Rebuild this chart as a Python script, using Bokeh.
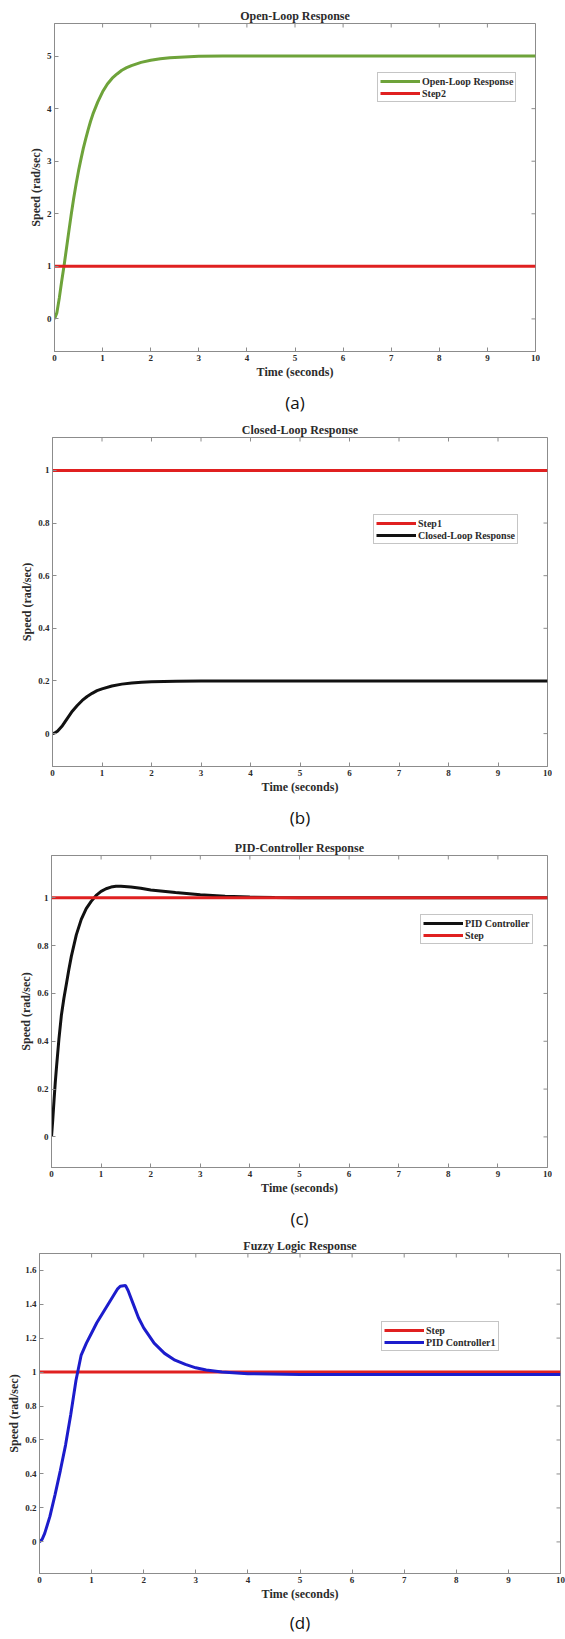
import math
from bokeh.plotting import figure
from bokeh.models import Range1d, Legend, LegendItem, Title, FixedTicker, Spacer
from bokeh.layouts import column, row
from bokeh.embed import file_html
from bokeh.resources import INLINE

# ---------------- data ----------------
x_ticks = [0, 1, 2, 3, 4, 5, 6, 7, 8, 9, 10]
x_tick_labels = ["0", "1", "2", "3", "4", "5", "6", "7", "8", "9", "10"]
step_t = [0, 10]
step_val = [1, 1]

# (a) Open-loop
a_t = [0, 0.05, 0.1, 0.15, 0.2, 0.25, 0.3, 0.35, 0.4, 0.45, 0.5, 0.55, 0.6, 0.65, 0.7, 0.75,
       0.8, 0.9, 1.0, 1.1, 1.2, 1.3, 1.4, 1.5, 1.6, 1.8, 2.0, 2.2, 2.4, 2.7, 3.0, 3.5, 4, 5,
       6, 7, 8, 9, 10]
a_speed = [0, 0.12, 0.4, 0.72, 1.02, 1.35, 1.68, 2.0, 2.3, 2.57, 2.82, 3.04, 3.25, 3.43, 3.6,
           3.76, 3.9, 4.13, 4.32, 4.47, 4.58, 4.66, 4.73, 4.78, 4.82, 4.88, 4.92, 4.95, 4.97,
           4.985, 4.995, 5.0, 5.0, 5.0, 5.0, 5.0, 5.0, 5.0, 5.0]
a_yticks = [0, 1, 2, 3, 4, 5]
a_ylabels = ["0", "1", "2", "3", "4", "5"]

# (b) Closed-loop
b_t = [0, 0.05, 0.1, 0.2, 0.3, 0.4, 0.5, 0.6, 0.7, 0.8, 0.9, 1.0, 1.2, 1.4, 1.6, 1.8, 2.0,
       2.5, 3, 4, 5, 6, 7, 8, 9, 10]
b_speed = [0, 0.003, 0.009, 0.03, 0.058, 0.085, 0.107, 0.126, 0.141, 0.153, 0.163, 0.17,
           0.181, 0.188, 0.192, 0.195, 0.197, 0.199, 0.2, 0.2, 0.2, 0.2, 0.2, 0.2, 0.2, 0.2]
b_yticks = [0, 0.2, 0.4, 0.6, 0.8, 1]
b_ylabels = ["0", "0.2", "0.4", "0.6", "0.8", "1"]

# (c) PID controller
c_t = [0, 0.025, 0.05, 0.075, 0.1, 0.15, 0.2, 0.25, 0.3, 0.35, 0.4, 0.5, 0.6, 0.7, 0.8, 0.9,
       1.0, 1.1, 1.2, 1.3, 1.4, 1.6, 1.8, 2.0, 2.5, 3.0, 3.5, 4.0, 4.5, 5, 6, 7, 8, 9, 10]
c_speed = [0, 0.07, 0.15, 0.225, 0.29, 0.41, 0.51, 0.58, 0.64, 0.7, 0.755, 0.845, 0.91, 0.955,
           0.985, 1.01, 1.027, 1.038, 1.045, 1.048, 1.048, 1.045, 1.04, 1.033, 1.022, 1.013,
           1.007, 1.003, 1.001, 1.0, 1.0, 1.0, 1.0, 1.0, 1.0]
c_yticks = [0, 0.2, 0.4, 0.6, 0.8, 1]
c_ylabels = ["0", "0.2", "0.4", "0.6", "0.8", "1"]

# (d) Fuzzy logic
d_t = [0, 0.05, 0.1, 0.2, 0.3, 0.4, 0.5, 0.6, 0.7, 0.8, 0.9, 1.0, 1.1, 1.2, 1.3, 1.4, 1.5,
       1.55, 1.65, 1.7, 1.8, 1.9, 2.0, 2.2, 2.4, 2.6, 2.8, 3.0, 3.2, 3.5, 4.0, 5, 6, 7, 8, 9, 10]
d_speed = [0, 0.015, 0.05, 0.15, 0.28, 0.42, 0.57, 0.75, 0.95, 1.1, 1.17, 1.23, 1.29, 1.34,
           1.39, 1.44, 1.49, 1.505, 1.51, 1.48, 1.4, 1.32, 1.26, 1.17, 1.11, 1.07, 1.045,
           1.025, 1.012, 1.0, 0.99, 0.986, 0.985, 0.985, 0.985, 0.985, 0.985]
d_yticks = [0, 0.2, 0.4, 0.6, 0.8, 1, 1.2, 1.4, 1.6]
d_ylabels = ["0", "0.2", "0.4", "0.6", "0.8", "1", "1.2", "1.4", "1.6"]

# ---------------- style ----------------
SERIF = "Liberation Serif"
FRAME = "#8c8c8c"
TXT = "#2b2b2b"
GREEN = "#6ea33a"
RED = "#e02020"
BLUE = "#1c1ccc"
BLACK = "#111111"
LB = 39   # common left border
RB = 5    # common right border


def style_axis(ax):
    ax.axis_line_color = FRAME
    ax.major_tick_line_color = FRAME
    ax.minor_tick_line_color = None
    ax.major_tick_in = 4
    ax.major_tick_out = 0
    ax.major_label_text_font = SERIF
    ax.major_label_text_font_style = "bold"
    ax.major_label_text_font_size = "9px"
    ax.major_label_text_color = TXT
    ax.major_label_standoff = 3
    ax.axis_label_text_font = SERIF
    ax.axis_label_text_font_style = "bold"
    ax.axis_label_text_font_size = "12px"
    ax.axis_label_text_color = TXT
    ax.axis_label_standoff = 1


def panel(title, caption, yr, yticks, ylabels, lines, leg_xy, W, T, B, H, cap_standoff):
    p = figure(width=W, height=H, x_range=Range1d(0, 10), y_range=Range1d(*yr),
               output_backend="svg", toolbar_location=None,
               min_border_left=LB, min_border_right=RB, min_border_top=T, min_border_bottom=B,
               title=title)
    p.title.text_font = SERIF
    p.title.text_font_style = "bold"
    p.title.text_font_size = "12px"
    p.title.text_color = TXT
    p.title.align = "center"
    p.title.standoff = 1
    p.grid.visible = False
    p.outline_line_color = FRAME
    p.background_fill_color = "white"
    p.border_fill_color = "white"

    p.xaxis.ticker = FixedTicker(ticks=x_ticks)
    p.xaxis.major_label_overrides = {t: s for t, s in zip(x_ticks, x_tick_labels)}
    p.xaxis.axis_label = "Time (seconds)"
    p.yaxis.ticker = FixedTicker(ticks=yticks)
    p.yaxis.major_label_overrides = {t: s for t, s in zip(yticks, ylabels)}
    p.yaxis.axis_label = "Speed (rad/sec)"
    style_axis(p.xaxis[0])
    style_axis(p.yaxis[0])

    # mirrored inward ticks on the top and right edges (clipped to the frame)
    p.scatter(x_ticks, [yr[1]] * len(x_ticks), marker="dash", size=8, angle=math.pi / 2,
              line_color=FRAME, line_width=1)
    p.scatter([10] * len(yticks), yticks, marker="dash", size=8,
              line_color=FRAME, line_width=1)

    items = []
    for name, xs, ys, col in lines:
        r = p.line(xs, ys, line_color=col, line_width=3)
        items.append(LegendItem(label=name, renderers=[r]))

    leg = Legend(items=items, location=leg_xy)
    leg.border_line_color = FRAME
    leg.border_line_width = 1
    leg.background_fill_color = "white"
    leg.label_text_font = SERIF
    leg.label_text_font_style = "bold"
    leg.label_text_font_size = "10px"
    leg.label_text_color = TXT
    leg.glyph_width = 40
    leg.glyph_height = 12
    leg.label_height = 12
    leg.label_standoff = 2
    leg.padding = 2
    leg.spacing = 0
    leg.margin = 0
    p.add_layout(leg, "center")

    cap = Title(text=caption, align="center", text_font="Open Sans",
                text_font_size="17px", text_font_style="normal", text_color="#111111",
                standoff=cap_standoff)
    p.add_layout(cap, "below")
    return p


def placed(fig, offset):
    if offset <= 0:
        return fig
    return row(Spacer(width=offset, height=fig.height), fig, spacing=0)


# frame left/right targets: a 54/535, b 52/547, c 51/547, d 39/560
pa = panel("Open-Loop Response", "(a)", (-0.62, 5.62), a_yticks, a_ylabels,
           [("Open-Loop Response", a_t, a_speed, GREEN), ("Step2", step_t, step_val, RED)],
           (323, 249), 535 + RB - 15, 23, 69, 420, 14)
pb = panel("Closed-Loop Response", "(b)", (-0.125, 1.125), b_yticks, b_ylabels,
           [("Step1", step_t, step_val, RED), ("Closed-Loop Response", b_t, b_speed, BLACK)],
           (321, 222), 547 + RB - 13, 17, 66, 415, 14)
pc = panel("PID-Controller Response", "(c)", (-0.128, 1.177), c_yticks, c_ylabels,
           [("PID Controller", c_t, c_speed, BLACK), ("Step", step_t, step_val, RED)],
           (369, 223), 547 + RB - 12, 20, 68, 401, 14)
pd = panel("Fuzzy Logic Response", "(d)", (-0.186, 1.698), d_yticks, d_ylabels,
           [("Step", step_t, step_val, RED), ("PID Controller1", d_t, d_speed, BLUE)],
           (342, 222), 565, 17, 66, 403, 11)

layout = column(placed(pa, 15), placed(pb, 13), placed(pc, 12), pd, spacing=0)
open("out.html", "w").write(file_html(layout, INLINE))
